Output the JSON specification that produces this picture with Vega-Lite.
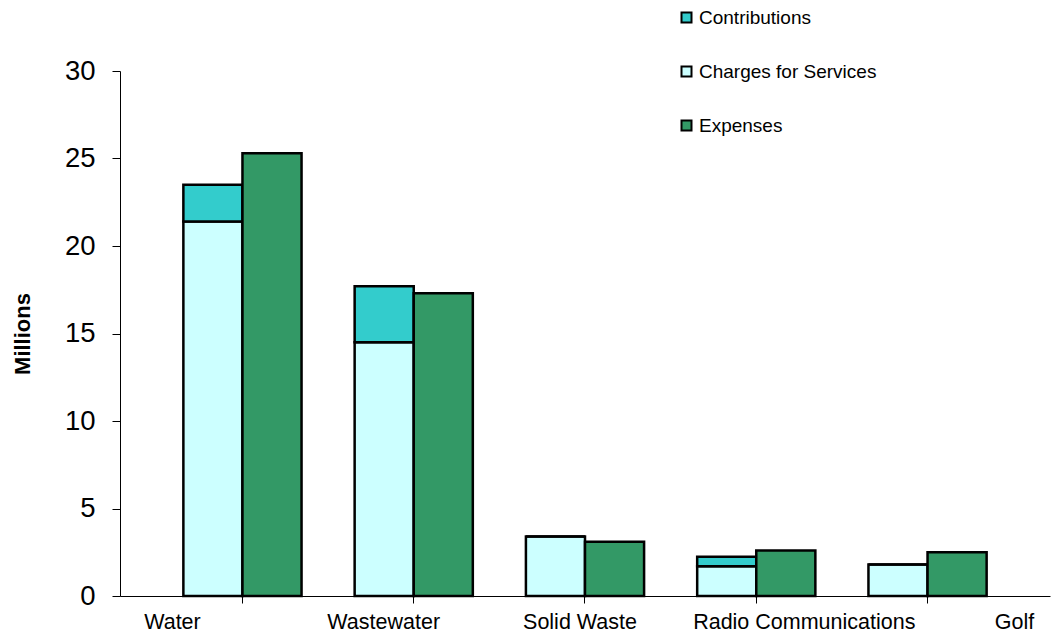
{
  "$schema": "https://vega.github.io/schema/vega-lite/v6.json",
  "width": 930,
  "height": 525,
  "autosize": "none",
  "padding": {"left": 120, "top": 71, "right": 10, "bottom": 37},
  "background": "white",
  "config": {
    "font": "Liberation Sans",
    "view": {"stroke": null}
  },
  "data": {
    "values": [
      {"category": "Water", "bar": "Revenue", "series": "Charges for Services", "layer": 1, "value": 21.4},
      {"category": "Water", "bar": "Revenue", "series": "Contributions", "layer": 2, "value": 2.1},
      {"category": "Water", "bar": "Expenses", "series": "Expenses", "layer": 1, "value": 25.3},
      {"category": "Wastewater", "bar": "Revenue", "series": "Charges for Services", "layer": 1, "value": 14.5},
      {"category": "Wastewater", "bar": "Revenue", "series": "Contributions", "layer": 2, "value": 3.2},
      {"category": "Wastewater", "bar": "Expenses", "series": "Expenses", "layer": 1, "value": 17.3},
      {"category": "Solid Waste", "bar": "Revenue", "series": "Charges for Services", "layer": 1, "value": 3.4},
      {"category": "Solid Waste", "bar": "Revenue", "series": "Contributions", "layer": 2, "value": 0},
      {"category": "Solid Waste", "bar": "Expenses", "series": "Expenses", "layer": 1, "value": 3.1},
      {"category": "Radio Communications", "bar": "Revenue", "series": "Charges for Services", "layer": 1, "value": 1.7},
      {"category": "Radio Communications", "bar": "Revenue", "series": "Contributions", "layer": 2, "value": 0.55},
      {"category": "Radio Communications", "bar": "Expenses", "series": "Expenses", "layer": 1, "value": 2.6},
      {"category": "Golf", "bar": "Revenue", "series": "Charges for Services", "layer": 1, "value": 1.8},
      {"category": "Golf", "bar": "Revenue", "series": "Contributions", "layer": 2, "value": 0},
      {"category": "Golf", "bar": "Expenses", "series": "Expenses", "layer": 1, "value": 2.5}
    ]
  },
  "mark": {"type": "bar", "stroke": "black", "strokeWidth": 2.5},
  "encoding": {
    "x": {
      "field": "category",
      "type": "nominal",
      "sort": ["Water", "Wastewater", "Solid Waste", "Radio Communications", "Golf"],
      "scale": {"paddingInner": 0.31, "paddingOuter": 0.37},
      "axis": {
        "title": null,
        "labelAngle": 0,
        "labelFontSize": 21.5,
        "labelLimit": 0,
        "labelColor": "black",
        "labelPadding": 8,
        "labelOverlap": false,
        "domainColor": "black",
        "domainWidth": 1,
        "tickColor": "black",
        "tickSize": 7,
        "labelOffset": {
          "condition": [
            {"test": "datum.value == 'Water'", "value": -70},
            {"test": "datum.value == 'Wastewater'", "value": -30},
            {"test": "datum.value == 'Solid Waste'", "value": -5},
            {"test": "datum.value == 'Radio Communications'", "value": 48},
            {"test": "datum.value == 'Golf'", "value": 87}
          ],
          "value": 0
        }
      }
    },
    "xOffset": {
      "field": "bar",
      "type": "nominal",
      "sort": ["Revenue", "Expenses"],
      "scale": {"paddingInner": 0, "paddingOuter": 0}
    },
    "y": {
      "field": "value",
      "type": "quantitative",
      "stack": "zero",
      "scale": {"domain": [0, 30], "nice": false},
      "axis": {
        "title": "Millions",
        "titleFontSize": 22,
        "titleFontWeight": "bold",
        "titleColor": "black",
        "titlePadding": 30,
        "values": [0, 5, 10, 15, 20, 25, 30],
        "grid": false,
        "labelFontSize": 27.5,
        "labelColor": "black",
        "labelPadding": 17,
        "domainColor": "black",
        "tickColor": "black",
        "tickSize": 8
      }
    },
    "color": {
      "field": "series",
      "type": "nominal",
      "scale": {
        "domain": ["Contributions", "Charges for Services", "Expenses"],
        "range": ["#33CCCC", "#CCFFFF", "#339966"]
      },
      "legend": {
        "title": null,
        "orient": "none",
        "legendX": 557,
        "legendY": -63,
        "symbolType": "square",
        "symbolSize": 100,
        "symbolStrokeColor": "black",
        "symbolStrokeWidth": 2,
        "labelFontSize": 19,
        "labelLimit": 0,
        "labelColor": "black",
        "labelOffset": 3,
        "rowPadding": 34
      }
    },
    "order": {"field": "layer", "type": "quantitative"}
  }
}
